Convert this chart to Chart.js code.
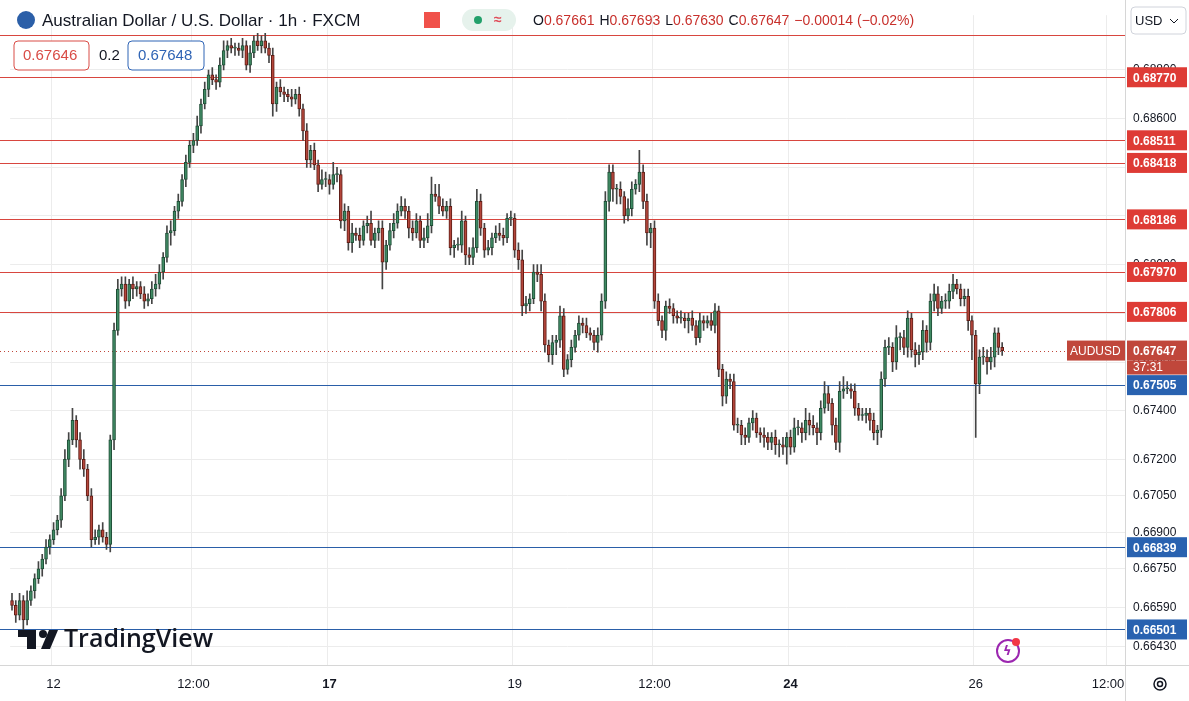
<!DOCTYPE html>
<html>
<head>
<meta charset="utf-8">
<script src="https://cdn.jsdelivr.net/npm/chart.js@4.4.1/dist/chart.umd.min.js"></script>
<style>
  body { margin: 0; background: #fff; }
  #wrap { position: relative; width: 1189px; height: 701px; }
</style>
</head>
<body>
<div id="wrap"><canvas id="c" width="1189" height="701"></canvas></div>
<script>
// hourly closes (segments just for readability)
const closesA = [0.6660,0.6656,0.6662,0.6654,0.6662,0.6666,0.6671,0.6675,0.6679,0.6684,
  0.6687,0.6691,0.6695,0.6705,0.6720,0.6728,0.6736,0.6728,0.6720,0.6716,
  0.6705,0.6687,0.6688,0.6691,0.6688,0.6685,0.6728,0.6773,0.6790,0.6792,
  0.6785,0.6792,0.6790,0.6791,0.6788,0.6785,0.6786,0.6790,0.6792,0.6797,
  0.6803,0.6813,0.6814,0.6822,0.6826,0.6835,0.6842,0.6849,0.6851,0.6857,
  0.6866,0.6872,0.6878,0.6876,0.6875,0.6882,0.6888,0.6890,0.6889,0.6889,
  0.6888,0.6890,0.6882,0.6887,0.6892,0.6890,0.6892,0.6889,0.6886,0.6866,
  0.6873,0.6871,0.6870,0.6869,0.6868,0.6870,0.6864,0.6855,0.6843];
const closesB = [0.6847,0.6841,0.6833,0.6835,0.6835,0.6833,0.6837,0.6837,0.6818,0.6822,
  0.6809,0.6813,0.6812,0.6810,0.6816,0.6817,0.6810,0.6813,0.6815,0.6801,
  0.6808,0.6814,0.6817,0.6822,0.6824,0.6822,0.6815,0.6813,0.6818,0.6810,
  0.6811,0.6816,0.6829,0.6828,0.6824,0.6822,0.6824,0.6807,0.6808,0.6808,
  0.6818,0.6804,0.6803,0.6807,0.6826,0.6815,0.6806,0.6807,0.6811,0.6813,
  0.6812,0.6811,0.6819,0.6819,0.6806,0.6802,0.6783,0.6784,0.6786,0.6797,
  0.6796,0.6785,0.6767];
const closesC = [0.6763,0.6768,0.6769,0.6779,0.6757,0.6761,0.6766,0.6771,0.6776,0.6775,
  0.6772,0.6771,0.6768,0.6771,0.6785,0.6826,0.6838,0.6831,0.6831,0.6828,
  0.6820,0.6823,0.6831,0.6833,0.6838,0.6826,0.6813,0.6815,0.6785,0.6777,
  0.6773,0.6783,0.6782,0.6779,0.6778,0.6778,0.6777,0.6778,0.6775,0.6770,
  0.6777,0.6776,0.6777,0.6775,0.6781,0.6757,0.6746,0.6753,0.6752,0.6734,
  0.6734,0.6730,0.6729,0.6735,0.6737,0.6731,0.6730,0.6729,0.6727];
const closesD = [0.6729,0.6726,0.6726,0.6725,0.6729,0.6725,0.6733,0.6733,0.6731,0.6736,
  0.6734,0.6733,0.6731,0.6741,0.6747,0.6743,0.6734,0.6727,0.6748,0.6749,
  0.6749,0.6748,0.6741,0.6738,0.6738,0.6739,0.6736,0.6731,0.6732,0.6753,
  0.6766,0.6766,0.6760,0.6770,0.6770,0.6766,0.6778,0.6765,0.6763,0.6764,
  0.6773,0.6768,0.6785,0.6788,0.6782,0.6785,0.6785,0.6789,0.6792,0.6790,
  0.6786,0.6787,0.6777,0.6771,0.6751,0.6762,0.6762,0.6760,0.6762,0.6772,
  0.6766,0.67647];
// wick lengths in pips above / below the body
const upWick = [3,2,3,2,4,2,2,3,2,3, 2,3,2,3,4,3,5,2,3,4, 2,3,3,2,3,2,2,3,4,3, 3,2,3,2,2,3,2,3,4,3,
  2,3,4,2,3,2,3,2,3,4, 2,3,2,3,2,3,4,2,3,2, 2,3,2,3,2,3,2,3,2,3, 2,3,2,2,3,2,3,2,3,
  2,3,2,4,3,2,5,3,2,3, 2,4,2,3,2,3,5,2,3,3, 2,3,4,3,4,3,2,3,3,2, 4,5,7,4,5,3,2,3,2,3,
  4,2,3,4,5,3,2,3,2,3, 4,3,2,3,2,3,4,3,2,3, 3,4,3,
  2,3,2,4,3,2,3,2,3,2, 3,2,2,3,3,4,3,3,2,3, 2,4,3,2,9,3,3,2,3,3, 2,2,3,2,2,3,2,2,3,2,
  3,2,2,3,3,2,2,3,2,3, 3,2,3,2,3,2,2,3,2,
  2,3,2,3,2,3,4,3,2,5, 3,4,2,3,5,3,2,3,4,5, 3,2,3,2,3,2,2,3,2,3, 3,4,2,5,2,3,3,2,3,3,
  4,2,3,4,3,2,3,3,4,2, 2,3,3,2,2,3,4,3,4,2, 2,2];
const downWick = [2,3,2,4,2,2,3,2,3,2, 3,2,2,3,2,3,2,3,4,3, 2,3,2,3,2,2,3,4,2,3, 3,2,4,3,2,3,2,2,3,2,
  3,2,5,2,3,2,3,2,3,2, 3,2,3,2,3,2,2,3,2,3, 2,3,2,3,2,2,3,2,3,5, 3,2,3,2,3,2,3,4,3,
  3,2,3,2,3,4,2,3,3,4, 3,4,2,3,2,3,2,3,3,11, 3,2,3,2,2,3,4,3,2,3, 3,2,3,2,3,2,3,3,4,2,
  3,4,3,3,2,3,3,2,3,2, 2,3,2,3,3,4,4,3,3,2, 3,4,3,
  3,4,5,3,3,2,3,2,2,3, 2,2,3,4,2,3,4,5,6,3, 3,2,3,2,3,3,5,6,3,2, 3,4,2,3,2,2,3,5,2,3,
  2,3,2,2,3,3,4,3,3,2, 3,4,3,2,3,2,3,4,3,
  3,4,5,3,7,3,2,3,4,3, 4,3,5,3,2,3,4,3,4,3, 2,3,3,2,2,3,4,3,5,3, 3,3,4,3,5,3,4,3,5,4,
  3,4,3,4,3,2,3,3,3,2, 3,3,4,10,22,4,3,5,3,4, 3,2];
const firstOpen = 0.6662;

const slotCount = 295;
const dateTickIdx = [11, 48, 84, 133, 170, 206, 255, 290];
const dateTickText = ['12', '12:00', '17', '19', '12:00', '24', '26', '12:00'];
const boldDates = ['17', '24'];
const priceTicks = [0.688, 0.686, 0.684, 0.682, 0.680, 0.678, 0.676, 0.674, 0.672, 0.6705, 0.669, 0.6675, 0.6659, 0.6643];
const redLevels = [0.68942, 0.68770, 0.68511, 0.68418, 0.68186, 0.67970, 0.67806];
const blueLevels = [0.67505, 0.66839, 0.66501];
const lastPrice = 0.67647;

const closes = [...closesA, ...closesB, ...closesC, ...closesD];
const opens = closes.map((c, i) => i === 0 ? firstOpen : closes[i - 1]);
const labels = Array.from({ length: slotCount }, (_, i) => {
  const k = dateTickIdx.indexOf(i);
  return k >= 0 ? dateTickText[k] : '';
});
const bodies = closes.map((c, i) => [opens[i], c]);
const wicks = closes.map((c, i) => [
  Math.min(opens[i], c) - downWick[i] * 0.0001,
  Math.max(opens[i], c) + upWick[i] * 0.0001
]);
const isUp = closes.map((c, i) => c >= opens[i]);

const UP = '#3f8a63', UP_B = '#1f4d36', DN = '#b4463b', DN_B = '#5e1d16';

const overlay = {
  id: 'overlay',
  beforeDatasetsDraw(chart) {
    const { ctx, chartArea: a, scales: { y } } = chart;
    ctx.save();
    const hline = (v, color) => {
      ctx.fillStyle = color;
      ctx.fillRect(0, Math.round(y.getPixelForValue(v)), a.right, 1);
    };
    redLevels.forEach(v => hline(v, '#d8463f'));
    blueLevels.forEach(v => hline(v, '#2a5ea8'));
    const lp = Math.round(y.getPixelForValue(lastPrice));
    ctx.fillStyle = '#c0473b';
    for (let x = 0; x < a.right; x += 4) ctx.fillRect(x, lp, 1, 1);
    ctx.restore();
  },
  afterDraw(chart) {
    const { ctx, chartArea: a, scales: { y } } = chart;
    ctx.save();
    // axis separators
    ctx.fillStyle = '#d6d6d6';
    ctx.fillRect(a.right, 0, 1, 701);
    ctx.fillRect(0, a.bottom, 1189, 1);

    const box = (v, color) => {
      const py = y.getPixelForValue(v);
      ctx.fillStyle = color;
      ctx.fillRect(a.right + 2, py - 10, 60, 20);
      ctx.fillStyle = '#fff';
      ctx.font = 'bold 12px "Liberation Sans", Arial';
      ctx.textAlign = 'left'; ctx.textBaseline = 'middle';
      ctx.fillText(v.toFixed(5), a.right + 8, py + 1);
    };
    redLevels.slice(1).forEach(v => box(v, '#de3b35'));
    blueLevels.forEach(v => box(v, '#2962b0'));
    box(lastPrice, '#c0473b');
    const lp = y.getPixelForValue(lastPrice);
    ctx.fillStyle = '#c0473b';
    ctx.fillRect(a.right + 2, lp + 10, 60, 14);
    ctx.fillRect(a.right - 58, lp - 10, 58, 20);
    ctx.fillStyle = '#fff';
    ctx.font = '12px "Liberation Sans", Arial';
    ctx.fillText('37:31', a.right + 8, lp + 17);
    ctx.fillText('AUDUSD', a.right - 55, lp + 1);

    // header
    ctx.textBaseline = 'middle';
    ctx.fillStyle = '#2b5fa8';
    ctx.beginPath(); ctx.arc(26, 20, 9, 0, Math.PI * 2); ctx.fill();
    ctx.fillStyle = '#131722';
    ctx.font = '17px "Liberation Sans", Arial';
    ctx.fillText('Australian Dollar / U.S. Dollar · 1h · FXCM', 42, 21);
    ctx.fillStyle = '#f0514a';
    ctx.fillRect(424, 12, 16, 16);
    ctx.fillStyle = '#e6f2ec';
    ctx.beginPath(); ctx.roundRect(462, 9, 54, 22, 11); ctx.fill();
    ctx.fillStyle = '#22a06b';
    ctx.beginPath(); ctx.arc(478, 20, 4, 0, Math.PI * 2); ctx.fill();
    ctx.fillStyle = '#e04a57';
    ctx.font = 'bold 14px "Liberation Sans", Arial';
    ctx.fillText('≈', 494, 20);
    const parts = [['O', '0.67661'], ['H', '0.67693'], ['L', '0.67630'], ['C', '0.67647'], ['', '−0.00014 (−0.02%)']];
    let x = 533;
    ctx.font = '14px "Liberation Sans", Arial';
    parts.forEach(([k, v]) => {
      ctx.fillStyle = '#131722'; ctx.fillText(k, x, 21); x += ctx.measureText(k).width;
      ctx.fillStyle = '#c8302c'; ctx.fillText(v, x, 21); x += ctx.measureText(v).width + 5;
    });
    // USD box
    ctx.strokeStyle = '#d0d3db'; ctx.fillStyle = '#fff'; ctx.lineWidth = 1;
    ctx.beginPath(); ctx.roundRect(1131, 7, 55, 27, 4); ctx.fill(); ctx.stroke();
    ctx.fillStyle = '#131722'; ctx.font = '13px "Liberation Sans", Arial';
    ctx.fillText('USD', 1135, 21);
    ctx.strokeStyle = '#131722';
    ctx.beginPath(); ctx.moveTo(1170, 19); ctx.lineTo(1174, 23); ctx.lineTo(1178, 19); ctx.stroke();
    // bid/ask boxes
    ctx.font = '15px "Liberation Sans", Arial';
    ctx.strokeStyle = '#d94c46'; ctx.fillStyle = '#fff';
    ctx.beginPath(); ctx.roundRect(14, 41, 75, 29, 4); ctx.fill(); ctx.stroke();
    ctx.fillStyle = '#d94c46'; ctx.fillText('0.67646', 23, 56);
    ctx.fillStyle = '#131722'; ctx.fillText('0.2', 99, 56);
    ctx.strokeStyle = '#2f64b5'; ctx.fillStyle = '#fff';
    ctx.beginPath(); ctx.roundRect(128, 41, 76, 29, 4); ctx.fill(); ctx.stroke();
    ctx.fillStyle = '#2f64b5'; ctx.fillText('0.67648', 138, 56);
    // logo
    ctx.fillStyle = '#131722';
    ctx.fillRect(18, 630, 18, 7);
    ctx.fillRect(27, 630, 9, 19);
    ctx.beginPath(); ctx.arc(43, 634, 4, 0, Math.PI * 2); ctx.fill();
    ctx.beginPath(); ctx.moveTo(49, 630); ctx.lineTo(58, 630); ctx.lineTo(50, 649); ctx.lineTo(41, 649); ctx.fill();
    ctx.font = '600 25px "Open Sans", Arial';
    ctx.fillText('TradingView', 64, 640);
    // lightning icon and gear
    ctx.strokeStyle = '#9c27b0'; ctx.lineWidth = 2;
    ctx.beginPath(); ctx.arc(1008, 651, 11, 0, Math.PI * 2); ctx.stroke();
    ctx.fillStyle = '#9c27b0'; ctx.font = 'bold 13px "DejaVu Sans"';
    ctx.fillText('ϟ', 1003, 652);
    ctx.fillStyle = '#f23645';
    ctx.beginPath(); ctx.arc(1016, 642, 4, 0, Math.PI * 2); ctx.fill();
    ctx.strokeStyle = '#131722'; ctx.lineWidth = 1.5;
    ctx.beginPath(); ctx.arc(1160, 684, 6, 0, Math.PI * 2); ctx.stroke();
    ctx.beginPath(); ctx.arc(1160, 684, 2.5, 0, Math.PI * 2); ctx.stroke();
    ctx.restore();
  }
};

new Chart(document.getElementById('c'), {
  type: 'bar',
  data: {
    labels,
    datasets: [
      {
        data: bodies,
        backgroundColor: isUp.map(u => u ? UP : DN),
        borderColor: isUp.map(u => u ? UP_B : DN_B),
        borderWidth: 1,
        borderSkipped: false,
        barThickness: 3,
        minBarLength: 1,
        order: 1
      },
      {
        data: wicks,
        backgroundColor: '#444',
        barThickness: 1,
        order: 2
      }
    ]
  },
  options: {
    responsive: false,
    animation: false,
    devicePixelRatio: 1,
    layout: { padding: 0 },
    plugins: { legend: { display: false }, tooltip: { enabled: false } },
    datasets: { bar: { grouped: false } },
    scales: {
      x: {
        offset: true,
        grid: {
          color: c => (c.tick && c.tick.label) ? '#ececec' : 'rgba(0,0,0,0)',
          drawTicks: false
        },
        border: { display: false },
        ticks: {
          autoSkip: false, maxRotation: 0, padding: 12, color: '#131722',
          font: c => ({ family: '"Liberation Sans", Arial', size: 13, weight: boldDates.includes(c.tick && c.tick.label) ? 'bold' : 'normal' })
        },
        afterFit: s => { s.height = 36; }
      },
      y: {
        position: 'right',
        min: 0.66355, max: 0.69025,
        afterBuildTicks: s => { s.ticks = priceTicks.map(v => ({ value: v })); },
        grid: { color: '#ececec', drawTicks: false },
        border: { display: false },
        ticks: {
          padding: 8, color: '#131722',
          font: { family: '"Liberation Sans", Arial', size: 12 },
          callback: v => Number(v).toFixed(5)
        },
        afterFit: s => { s.width = 64; }
      }
    }
  },
  plugins: [overlay]
});
</script>
</body>
</html>
